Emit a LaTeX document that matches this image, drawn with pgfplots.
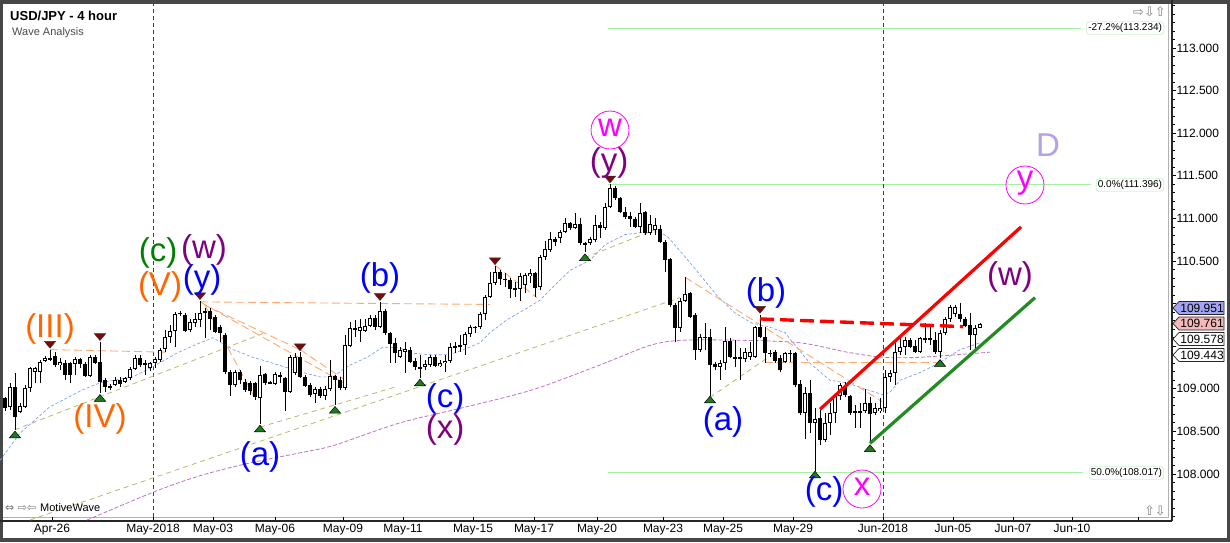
\documentclass[border=0pt]{standalone}
\usepackage{pgfplots}
\pgfplotsset{compat=1.18}
\usepackage{pgfplotstable}
\usepackage{fontspec}
\setmainfont{Liberation Sans}
\newfontfamily\djv{DejaVu Sans}
\definecolor{cOr}{HTML}{FF6600}
\definecolor{cGr}{HTML}{008000}
\definecolor{cPu}{HTML}{800080}
\definecolor{cBl}{HTML}{0000FF}
\definecolor{cMa}{HTML}{FF00FF}
\definecolor{cLa}{HTML}{B4A0EC}
\definecolor{fibg}{HTML}{A6F0A6}
\definecolor{maBl}{HTML}{7FA0F0}
\definecolor{maPu}{HTML}{C070C8}
\definecolor{olv}{HTML}{B8B870}
\definecolor{orl}{HTML}{FFA870}
\definecolor{trG}{HTML}{1F7A1F}
\definecolor{trR}{HTML}{7A0A0A}
\definecolor{lnG}{HTML}{228B22}
\definecolor{boxB}{HTML}{A4A4F4}
\definecolor{boxR}{HTML}{F4B8B8}

\pgfplotstableread{
x o h l c
2 108.79 109.07 108.75 109.02
4 108.73 108.83 108.72 108.80
5 108.79 109.04 108.77 109.01
6 109.01 109.26 108.96 109.24
7 109.20 109.26 109.07 109.24
8 109.20 109.34 109.07 109.31
9 109.33 109.39 109.31 109.36
12 109.28 109.36 109.22 109.31
15 109.29 109.37 109.16 109.35
18 109.15 109.40 109.14 109.37
23 109.04 109.14 109.03 109.10
25 109.08 109.14 109.07 109.13
26 109.13 109.26 109.11 109.23
27 109.23 109.40 109.22 109.36
29 109.28 109.34 109.16 109.30
30 109.24 109.31 109.21 109.30
31 109.30 109.37 109.24 109.35
32 109.34 109.48 109.31 109.46
33 109.47 109.69 109.43 109.61
34 109.61 109.75 109.54 109.68
35 109.68 109.90 109.49 109.88
38 109.69 109.82 109.67 109.78
39 109.77 109.89 109.73 109.82
40 109.81 110.03 109.73 109.89
41 109.89 109.95 109.60 109.91
47 109.04 109.22 109.02 109.20
52 108.89 109.27 108.59 109.16
55 109.06 109.20 109.04 109.17
58 108.96 109.40 108.95 109.37
59 109.19 109.42 109.16 109.37
63 108.94 109.02 108.83 109.00
65 108.92 109.03 108.87 109.00
66 109.00 109.34 108.97 109.15
69 109.01 109.63 108.99 109.51
70 109.50 109.78 109.49 109.71
72 109.68 109.82 109.55 109.73
73 109.68 109.82 109.67 109.74
74 109.74 109.87 109.73 109.83
76 109.73 110.02 109.71 109.92
80 109.37 109.49 109.36 109.46
81 109.43 109.55 109.19 109.47
85 109.26 109.34 109.22 109.29
86 109.28 109.40 109.26 109.37
88 109.27 109.34 109.26 109.30
89 109.30 109.40 109.20 109.33
90 109.33 109.54 109.30 109.49
91 109.49 109.55 109.42 109.50
92 109.49 109.63 109.43 109.51
93 109.51 109.67 109.40 109.64
94 109.64 109.75 109.61 109.73
96 109.73 109.90 109.70 109.88
97 109.88 110.10 109.81 110.08
98 110.08 110.37 110.07 110.24
99 110.24 110.44 110.22 110.37
104 110.17 110.36 110.03 110.32
105 110.22 110.36 110.12 110.34
106 110.32 110.41 110.24 110.36
108 110.20 110.57 110.16 110.55
109 110.55 110.73 110.51 110.64
110 110.63 110.84 110.61 110.76
112 110.77 110.86 110.71 110.84
113 110.84 111.00 110.83 110.95
115 110.89 111.06 110.88 110.93
118 110.71 110.78 110.69 110.76
119 110.75 111.04 110.72 110.92
121 110.89 111.18 110.86 111.13
122 111.13 111.40 111.12 111.36
128 110.90 111.18 110.83 111.06
130 110.83 111.04 110.81 110.93
131 110.86 111.00 110.81 110.92
136 109.71 110.07 109.67 110.03
137 110.03 110.31 110.02 110.11
140 109.46 109.64 109.43 109.61
144 109.26 109.34 109.10 109.30
145 109.30 109.73 109.22 109.56
149 109.35 109.48 109.31 109.43
150 109.37 109.55 109.34 109.43
151 109.37 109.74 109.36 109.73
157 109.31 109.43 109.30 109.42
161 108.72 109.02 108.41 108.95
163 108.60 108.77 108.03 108.65
165 108.40 108.72 108.38 108.60
166 108.60 108.83 108.46 108.72
167 108.72 108.95 108.60 108.92
168 108.92 109.07 108.87 109.04
172 108.72 108.83 108.54 108.74
173 108.74 109.00 108.72 108.83
175 108.72 108.83 108.69 108.77
176 108.74 108.89 108.72 108.77
177 108.77 109.22 108.72 109.14
178 109.14 109.22 109.08 109.19
179 109.19 109.57 109.05 109.43
180 109.43 109.60 109.40 109.49
181 109.49 109.61 109.40 109.57
184 109.43 109.61 109.42 109.60
188 109.43 109.69 109.36 109.66
189 109.66 109.84 109.63 109.82
190 109.82 109.98 109.78 109.96
191 109.88 109.98 109.84 109.96
195 109.63 109.75 109.43 109.71
196 109.71 109.77 109.71 109.76
}\up

\pgfplotstableread{
x o h l c
1 108.89 108.90 108.74 108.77
3 109.02 109.19 108.52 108.67
10 109.36 109.46 109.33 109.34
11 109.39 109.43 109.26 109.28
13 109.30 109.34 109.10 109.16
14 109.30 109.31 109.07 109.16
16 109.35 109.36 109.24 109.29
17 109.29 109.31 109.14 109.15
19 109.37 109.40 109.29 109.30
20 109.31 109.55 108.95 109.08
21 109.10 109.13 108.96 109.02
22 109.03 109.06 108.99 109.02
24 109.11 109.14 109.02 109.06
28 109.36 109.40 109.26 109.28
36 109.89 109.91 109.85 109.88
37 109.87 109.89 109.67 109.68
42 109.91 109.95 109.69 109.82
43 109.84 109.87 109.66 109.67
44 109.73 109.75 109.55 109.66
45 109.63 109.66 109.17 109.20
46 109.20 109.22 108.92 109.04
48 109.20 109.22 109.06 109.10
49 109.08 109.11 108.96 108.99
50 109.07 109.09 108.93 108.97
51 109.07 109.08 108.87 108.90
53 109.17 109.19 109.04 109.07
54 109.08 109.09 109.06 109.07
56 109.16 109.20 109.07 109.14
57 109.13 109.14 108.74 108.96
60 109.37 109.43 109.13 109.14
61 109.14 109.16 109.02 109.03
62 109.04 109.07 108.90 108.93
64 109.00 109.02 108.89 108.92
67 109.15 109.16 108.81 109.10
68 109.11 109.14 108.99 109.01
71 109.71 109.81 109.61 109.69
75 109.83 109.87 109.69 109.73
77 109.92 109.94 109.63 109.66
78 109.66 109.67 109.30 109.53
79 109.54 109.60 109.30 109.42
82 109.46 109.49 109.30 109.31
83 109.33 109.36 109.22 109.26
84 109.26 109.40 109.13 109.24
87 109.37 109.40 109.26 109.27
95 109.73 109.74 109.66 109.71
100 110.37 110.39 110.22 110.29
101 110.29 110.36 110.20 110.28
102 110.28 110.30 110.07 110.17
103 110.18 110.25 110.08 110.16
107 110.36 110.37 110.08 110.18
111 110.76 110.78 110.68 110.72
114 110.95 110.96 110.86 110.89
116 110.93 111.00 110.69 110.71
117 110.71 110.72 110.61 110.70
120 110.92 110.96 110.77 110.89
123 111.36 111.38 111.22 111.24
124 111.24 111.25 111.06 111.08
125 111.08 111.13 110.99 111.02
126 111.03 111.08 110.90 110.99
127 110.99 111.02 110.89 110.90
129 111.08 111.09 110.81 110.83
132 110.88 110.92 110.71 110.72
133 110.72 110.75 110.37 110.51
134 110.52 110.53 109.96 109.98
135 109.98 110.01 109.55 109.71
138 110.12 110.14 109.83 109.84
139 109.87 109.89 109.34 109.46
141 109.61 109.77 109.46 109.60
142 109.61 109.70 108.92 109.28
143 109.29 109.31 109.22 109.26
146 109.56 109.60 109.36 109.37
147 109.37 109.57 109.26 109.35
148 109.37 109.48 109.10 109.35
152 109.73 109.87 109.60 109.61
153 109.61 109.73 109.30 109.42
154 109.42 109.46 109.37 109.41
155 109.43 109.46 109.30 109.33
156 109.36 109.40 109.20 109.22
158 109.42 109.46 109.31 109.41
159 109.42 109.43 109.02 109.04
160 109.06 109.10 108.69 108.72
162 108.95 109.10 108.48 108.60
164 108.66 108.75 108.34 108.40
169 109.02 109.08 108.90 108.93
170 108.92 108.93 108.69 108.72
171 108.74 108.81 108.54 108.72
174 108.83 108.90 108.36 108.70
182 109.57 109.60 109.48 109.49
183 109.50 109.57 109.42 109.43
185 109.60 109.77 109.54 109.57
186 109.60 109.73 109.51 109.57
187 109.57 109.67 109.41 109.43
192 109.88 110.01 109.78 109.82
193 109.82 109.84 109.73 109.74
194 109.75 109.89 109.46 109.63
}\dn

\newcommand\pbox[3]{%
  \filldraw[fill=#2, draw=black!85, line width=0.7pt] (1173,#1) -- (1179,#1-6.5) -- (1224,#1-6.5) -- (1224,#1+6.5) -- (1179,#1+6.5) -- cycle;
  \node[font=\fontsize{12}{13}\selectfont, inner sep=0] at (1202,#1) {#3};}

\begin{document}
\begin{tikzpicture}
\useasboundingbox (0,0) rectangle (1230pt,542pt);
\fill[black!72] (0,0) rectangle (1230pt,542pt);
\fill[white] (3pt,4pt) rectangle (1227pt,538pt);
\begin{scope}[x=1pt,y=-1pt,shift={(0pt,542pt)}]
  \draw[black!30, line width=0.8pt] (3,517) -- (1168,517) -- (1168,4);
\end{scope}
\begin{axis}[
  at={(0pt,21pt)}, anchor=south west, scale only axis,
  width=1172pt, height=521pt,
  xmin=0, xmax=234.4, ymin=107.4484, ymax=113.5634,
  axis x line*=bottom, axis y line*=right,
  axis line style={draw=black!85, line width=1.1pt},
  tick align=outside, major tick length=4pt, minor tick length=2.5pt,
  xtick={10.4,30.6,42.6,55,68.6,80.6,94.6,106.8,119.4,132.6,144.6,158.6,176.6,190.6,202.6,214.4,227.6},
  xticklabels={Apr-26,May-2018,May-03,May-06,May-09,May-11,May-15,May-17,May-20,May-23,May-25,May-29,Jun-2018,Jun-05,Jun-07,Jun-10,{}},
  x tick style={black, line width=0.8pt, yshift=4pt},
  xticklabel style={yshift=4pt},
  ytick={108,108.5,...,113},
  yticklabels={108.000,108.500,109.000,{},{},110.500,111.000,111.500,112.000,112.500,113.000},
  minor ytick={107.5,107.6,...,113.5},
  y tick style={black, line width=0.8pt},
  yticklabel style={xshift=-3pt},
  ticklabel style={font=\fontsize{12}{14}\selectfont},
]
% fibonacci levels
\addplot[fibg, line width=0.8pt] coordinates {(121.6,113.234) (216.2,113.234)};
\addplot[fibg, line width=0.8pt] coordinates {(121.6,111.396) (218.2,111.396)};
\addplot[fibg, line width=0.8pt] coordinates {(121.6,108.017) (216.6,108.017)};
% month separators
\addplot[black!75, line width=0.8pt, dash pattern=on 4pt off 3pt] coordinates {(30.6,107.495) (30.6,113.52)};
\addplot[black!75, line width=0.8pt, dash pattern=on 4pt off 3pt] coordinates {(176.6,107.495) (176.6,113.52)};
% moving averages
\addplot[maPu, line width=0.8pt, dash pattern=on 4pt off 2pt, smooth] coordinates {(17.4,107.46) (30.8,107.79) (40,107.98) (50,108.13) (61,108.26) (67,108.34) (80,108.60) (93.4,108.79) (106.6,108.99) (120,109.28) (130,109.51) (136.6,109.57) (148,109.57) (160,109.54) (169.4,109.43) (176.6,109.37) (184,109.37) (198,109.43)};
\addplot[maBl, line width=0.7pt, dash pattern=on 3pt off 2pt] coordinates {(0,108.16) (4,108.48) (10,108.79) (16.6,108.99) (20,109.07) (26.6,109.14) (30.6,109.26) (35.4,109.42) (40,109.54) (42.6,109.60) (44,109.55) (46.6,109.46) (50.6,109.37) (54.6,109.30) (60,109.20) (64,109.14) (66.6,109.14) (69.4,109.26) (73.4,109.37) (76.6,109.49) (80,109.48) (82,109.42) (86,109.40) (90,109.40) (94,109.49) (96,109.54) (98,109.66) (101.4,109.81) (104.6,109.92) (108,110.04) (110,110.16) (114,110.39) (118,110.51) (121,110.69) (125,110.81) (129,110.84) (132,110.84) (133.6,110.78) (137,110.55) (140.4,110.31) (143.6,110.08) (147,109.89) (150.4,109.77) (153.6,109.73) (157,109.66) (158.6,109.54) (162,109.30) (166,109.10) (169.4,109.07) (173.4,108.99) (176.6,108.93) (178,108.96) (180,109.10) (184,109.19) (188,109.31) (192,109.46) (196,109.54)};
% olive trend lines
\addplot[olv, line width=0.8pt, dash pattern=on 5pt off 4pt] coordinates {(6,107.46) (136,110.07)};
\addplot[olv, line width=0.8pt, dash pattern=on 5pt off 4pt] coordinates {(3,108.52) (52.6,109.65)};
\addplot[olv, line width=0.8pt, dash pattern=on 5pt off 4pt] coordinates {(52,108.55) (79,109.02)};
\addplot[olv, line width=0.8pt, dash pattern=on 5pt off 4pt] coordinates {(117,110.54) (132,110.89)};
\addplot[olv, line width=0.8pt, dash pattern=on 5pt off 4pt] coordinates {(142,108.90) (153.4,109.36)};
% orange lines
\addplot[orl, line width=0.9pt, dash pattern=on 8pt off 4pt] coordinates {(10,109.46) (33.4,109.43)};
\addplot[orl, line width=0.9pt, dash pattern=on 8pt off 4pt] coordinates {(40,110.02) (98,109.99)};
\addplot[orl, line width=0.9pt, dash pattern=on 8pt off 4pt] coordinates {(40,110.02) (69.4,109.05)};
\addplot[orl, line width=0.9pt, dash pattern=on 8pt off 4pt] coordinates {(41,109.98) (51,108.89)};
\addplot[orl, line width=0.9pt, dash pattern=on 8pt off 4pt] coordinates {(41,109.98) (60,109.46)};
\addplot[orl, line width=0.9pt, dash pattern=on 8pt off 4pt] coordinates {(60,109.46) (69.6,109.08)};
\addplot[orl, line width=0.9pt, dash pattern=on 8pt off 4pt] coordinates {(99,110.45) (107.4,110.07)};
\addplot[orl, line width=0.9pt, dash pattern=on 8pt off 4pt] coordinates {(137,110.31) (176.4,108.85)};
\addplot[orl, line width=0.9pt, dash pattern=on 8pt off 4pt] coordinates {(153,109.31) (188,109.31)};
% candles: wicks
\addplot[draw=none, error bars/.cd, y dir=both, y explicit, error mark=none, error bar style={draw=black, line width=0.9pt}]
  table[x=x, y expr=(\thisrow{h}+\thisrow{l})/2, y error expr=(\thisrow{h}-\thisrow{l})/2] {\up};
\addplot[draw=none, error bars/.cd, y dir=both, y explicit, error mark=none, error bar style={draw=black, line width=0.9pt}]
  table[x=x, y expr=(\thisrow{h}+\thisrow{l})/2, y error expr=(\thisrow{h}-\thisrow{l})/2] {\dn};
% bodies
\addplot[draw=none, error bars/.cd, y dir=both, y explicit, error mark=none, error bar style={draw=black, line width=3.8pt}]
  table[x=x, y expr=(\thisrow{o}+\thisrow{c})/2, y error expr={max((\thisrow{o}-\thisrow{c})/2,0.006)}] {\dn};
\addplot[draw=none, error bars/.cd, y dir=both, y explicit, error mark=none, error bar style={draw=black, line width=3.9pt}]
  table[x=x, y expr=(\thisrow{o}+\thisrow{c})/2, y error expr={max((\thisrow{c}-\thisrow{o})/2,0.006)}] {\up};
\addplot[draw=none, error bars/.cd, y dir=both, y explicit, error mark=none, error bar style={draw=white, line width=1.9pt}]
  table[x=x, y expr=(\thisrow{o}+\thisrow{c})/2, y error expr={max((\thisrow{c}-\thisrow{o})/2-0.0117,0)}] {\up};
% wave trend lines
\addplot[red, line width=3.4pt, dash pattern=on 14pt off 6pt] coordinates {(152,109.82) (192.6,109.73)};
\addplot[red, line width=3.2pt] coordinates {(164,108.76) (204.2,110.90)};
\addplot[lnG, line width=3.2pt] coordinates {(174,108.36) (207,110.07)};
% swing markers
\addplot[only marks, mark=triangle*, mark size=5pt, mark options={fill=trG, draw=black, line width=0.5pt, xscale=1.3, yscale=0.9}]
  coordinates {(3,108.45) (20,108.88) (52,108.52) (67,108.74) (84,109.06) (117,110.53) (142,108.86) (163,107.98) (174,108.29) (188,109.29)};
\addplot[only marks, mark=triangle*, mark size=5pt, mark options={rotate=180, fill=trR, draw=black!80, line width=0.5pt, xscale=1.3, yscale=0.9}]
  coordinates {(10,109.53) (20,109.62) (40,110.10) (60,109.50) (76,110.09) (99,110.51) (122,111.47) (152,109.94)};
\end{axis}
\begin{scope}[x=1pt,y=-1pt,shift={(0pt,542pt)}]
  % title
  \node[anchor=west, inner sep=0, font=\bfseries\fontsize{13}{15}\selectfont] at (10,16) {USD/JPY - 4 hour};
  \node[anchor=west, inner sep=0, text=black!70, font=\fontsize{11}{13}\selectfont] at (12,33) {Wave Analysis};
  % fib labels
  \node[anchor=east, draw=fibg, rounded corners=3pt, fill=white, inner sep=1.8pt, font=\fontsize{10}{12}\selectfont] at (1164,28) {-27.2\%(113.234)};
  \node[anchor=east, draw=fibg, rounded corners=3pt, fill=white, inner sep=1.8pt, font=\fontsize{10}{12}\selectfont] at (1164,185) {0.0\%(111.396)};
  \node[anchor=east, draw=fibg, rounded corners=3pt, fill=white, inner sep=1.8pt, font=\fontsize{10}{12}\selectfont] at (1164,473) {50.0\%(108.017)};
  % price boxes
  \pbox{355}{white}{109.443}
  \pbox{339}{white}{109.578}
  \pbox{323.5}{boxR}{109.761}
  \pbox{308}{boxB}{109.951}
  % icons
  \node[anchor=east, inner sep=0, text=black!50, font=\djv\fontsize{13}{15}\selectfont] at (1166,12) {⇨⇩⇧};
  \node[anchor=east, inner sep=0, text=black!50, font=\djv\fontsize{13}{15}\selectfont] at (1166,511) {⇧⇩};
  \node[anchor=west, inner sep=0, text=black!55, font=\djv\fontsize{11}{13}\selectfont] at (5,508) {⇔ ⇨⇦};
  \node[anchor=west, inner sep=0, font=\fontsize{11}{13}\selectfont] at (40,508) {MotiveWave};
  % wave labels
  \begin{scope}[every node/.style={font=\fontsize{33}{36}\selectfont, inner sep=0}]
    \node[text=cOr] at (50,329) {(III)};
    \node[text=cOr] at (100,419) {(IV)};
    \node[text=cGr] at (158,253) {(c)};
    \node[text=cPu] at (204,250) {(w)};
    \node[text=cOr] at (160,287) {(V)};
    \node[text=cBl] at (202,280) {(y)};
    \node[text=cBl] at (260,457) {(a)};
    \node[text=cBl] at (380,278) {(b)};
    \node[text=cBl] at (445,399) {(c)};
    \node[text=cPu] at (445,430) {(x)};
    \node[text=cPu] at (609,163) {(y)};
    \node[text=cBl] at (766,293) {(b)};
    \node[text=cBl] at (723,422) {(a)};
    \node[text=cBl] at (824,492) {(c)};
    \node[text=cPu] at (1010,277) {(w)};
    \node[text=cMa] at (610,128) {w};
    \node[text=cMa] at (862,487) {x};
    \node[text=cMa] at (1025,183) {y};
    \node[text=cLa] at (1048,145) {D};
  \end{scope}
  \draw[cMa, line width=0.8pt] (610,130) circle[radius=19pt];
  \draw[cMa, line width=0.8pt] (862,489) circle[radius=19pt];
  \draw[cMa, line width=0.8pt] (1025,185) circle[radius=19pt];
\end{scope}
\end{tikzpicture}
\end{document}
